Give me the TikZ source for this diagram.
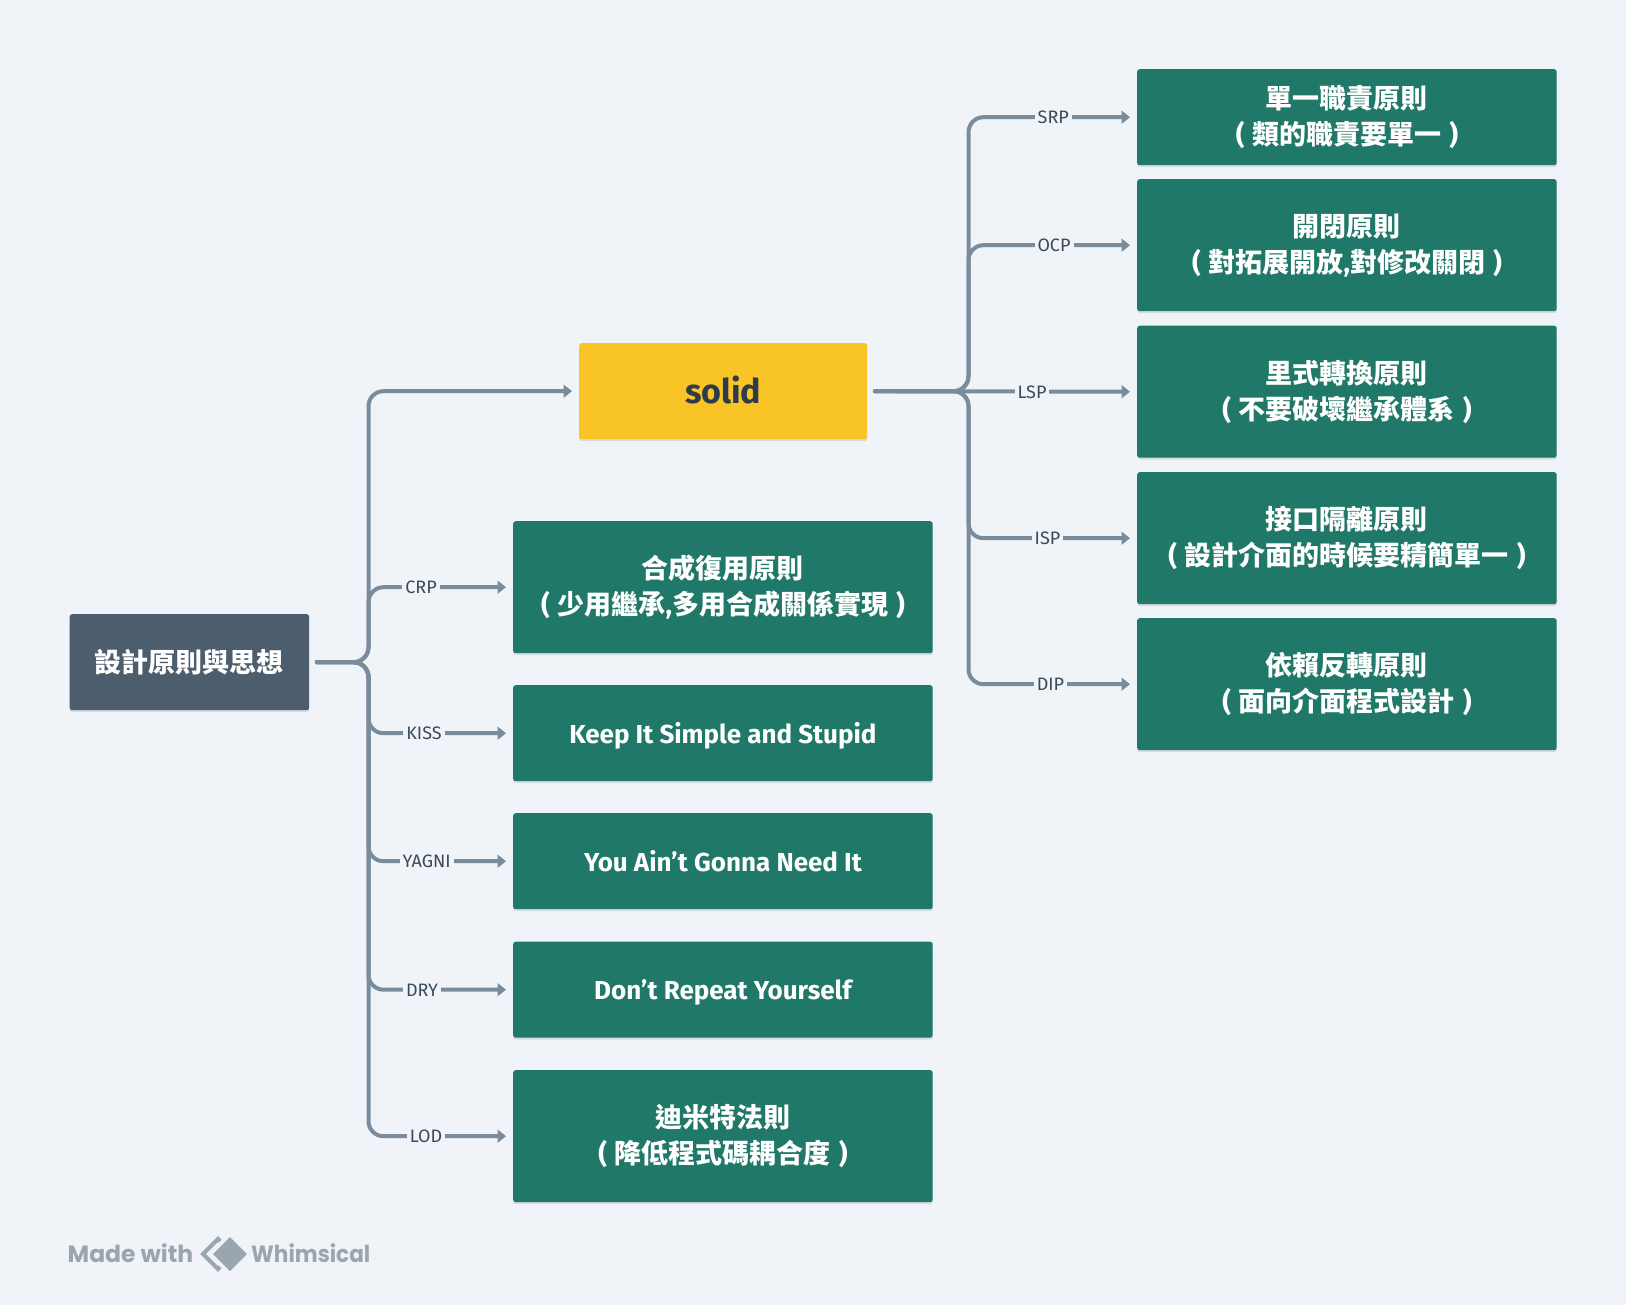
\documentclass[tikz,border=0pt]{standalone}
\usepackage{fontspec}
\setmainfont{Fira Sans}
\newfontfamily\cjkb{Noto Sans CJK TC Medium}
\newfontfamily\logofont{Poppins}
\usetikzlibrary{arrows.meta,shadows}
\definecolor{bgc}{HTML}{F0F4F8}
\definecolor{greenc}{HTML}{207868}
\definecolor{yellowc}{HTML}{F9C425}
\definecolor{slatec}{HTML}{4C5D6D}
\definecolor{linec}{HTML}{7A8B9C}
\definecolor{labelc}{HTML}{3B4A5A}
\definecolor{darkc}{HTML}{2D3B4A}
\definecolor{logoc}{HTML}{9AA6AF}
\newcommand{\lp}{(\kern1.5pt\ }
\newcommand{\rp}{\ \kern1.5pt)}
\tikzset{
  x=1pt,y=-1pt,
  card/.style={rectangle,rounded corners=2.5pt,anchor=north west,align=center,inner sep=0pt,
    general shadow={shadow yshift=-2pt,shadow xshift=0pt,fill=black,opacity=.10}},
  greencard/.style={card,fill=greenc,text=white,font=\fontsize{27}{36}\selectfont\bfseries,minimum width=419.5pt},
  latincard/.style={greencard,text height=22pt,text depth=2pt,font=\fontsize{26}{36}\selectfont\bfseries},
  conn/.style={draw=linec,line width=4pt,rounded corners=15pt,line cap=round,shorten <=7.5pt,shorten >=7pt,
    -{Triangle[length=8.5pt,width=13pt]}},
  lab/.style={fill=bgc,text=labelc,font=\fontsize{18}{20}\selectfont,inner xsep=3pt,inner ysep=1pt},
  logotext/.style={anchor=base west,inner sep=0pt,text=logoc,font=\fontsize{23.5}{26}\selectfont\logofont\bfseries},
}
\begin{document}
\begin{tikzpicture}
\useasboundingbox[fill=bgc] (0,0) rectangle (1626,1305);
% nodes
\node[card,fill=slatec,text=white,font=\fontsize{27}{36}\selectfont\bfseries,minimum width=239.5pt,minimum height=96pt] (root) at (69.5,614) {\cjkb 設計原則與思想};
\node[card,fill=yellowc,text=darkc,font=\fontsize{34}{40}\selectfont\bfseries,text height=26pt,text depth=2pt,minimum width=288pt,minimum height=96pt] (solid) at (579,343) {solid};
\node[greencard,minimum height=132pt] (crp) at (513,521) {{\cjkb 合成復用原則}\\\lp{\cjkb 少用繼承},{\cjkb 多用合成關係實現}\rp};
\node[latincard,minimum height=96pt] (kiss) at (513,685) {Keep It Simple and Stupid};
\node[latincard,minimum height=96pt] (yagni) at (513,813) {You Ain’t Gonna Need It};
\node[latincard,minimum height=96pt] (dry) at (513,941.5) {Don’t Repeat Yourself};
\node[greencard,minimum height=132pt] (lod) at (513,1070) {{\cjkb 迪米特法則}\\\lp{\cjkb 降低程式碼耦合度}\rp};
\node[greencard,minimum height=96pt] (srp) at (1137,69) {{\cjkb 單一職責原則}\\\lp{\cjkb 類的職責要單一}\rp};
\node[greencard,minimum height=132pt] (ocp) at (1137,179) {{\cjkb 開閉原則}\\\lp{\cjkb 對拓展開放},{\cjkb 對修改關閉}\rp};
\node[greencard,minimum height=132pt] (lsp) at (1137,325.5) {{\cjkb 里式轉換原則}\\\lp{\cjkb 不要破壞繼承體系}\rp};
\node[greencard,minimum height=132pt] (isp) at (1137,472) {{\cjkb 接口隔離原則}\\\lp{\cjkb 設計介面的時候要精簡單一}\rp};
\node[greencard,minimum height=132pt] (dip) at (1137,618) {{\cjkb 依賴反轉原則}\\\lp{\cjkb 面向介面程式設計}\rp};
% trunks
\coordinate (tl) at (368.5,661);
\coordinate (tr) at (968.5,391);
% connectors
\draw[conn] (root.east) -- (tl |- root.east) -- (tl |- solid.west) -- (solid.west);
\foreach \t in {crp,kiss,yagni,dry,lod}
  \draw[conn] (root.east) -- (tl |- root.east) -- (tl |- \t.west) -- (\t.west);
\foreach \t in {srp,ocp,isp,dip}
  \draw[conn] (solid.east) -- (tr |- solid.east) -- (tr |- \t.west) -- (\t.west);
\draw[conn] (solid.east) -- (lsp.west);
% labels
\node[lab] (lcrp) at (421,587) {CRP};
\node[lab] (lkiss) at (424,733.5) {KISS};
\node[lab] (lyagni) at (426.7,861) {YAGNI};
\node[lab] (ldry) at (422,990.5) {DRY};
\node[lab] (llod) at (426,1136) {LOD};
\node[lab] (lsrp) at (1053.3,117) {SRP};
\node[lab] (locp) at (1054,245) {OCP};
\node[lab] (llsp) at (1032,392.5) {LSP};
\node[lab] (lisp) at (1047.5,538) {ISP};
\node[lab] (ldip) at (1050.5,684) {DIP};
% footer
\node[logotext] (made) at (67.5,1262) {Made with};
\node[logotext] (whim) at (251,1262) {\scalebox{.92}[1]{Whimsical}};
\draw[logoc,line width=4pt,line join=miter] (218,1239) -- (233,1254) -- (218,1269) -- (203,1254) -- cycle;
\fill[bgc] (230,1231.5) -- (252.5,1254) -- (230,1276.5) -- (207.5,1254) -- cycle;
\fill[logoc] (230,1237) -- (247,1254) -- (230,1271) -- (213,1254) -- cycle;
\end{tikzpicture}
\end{document}
